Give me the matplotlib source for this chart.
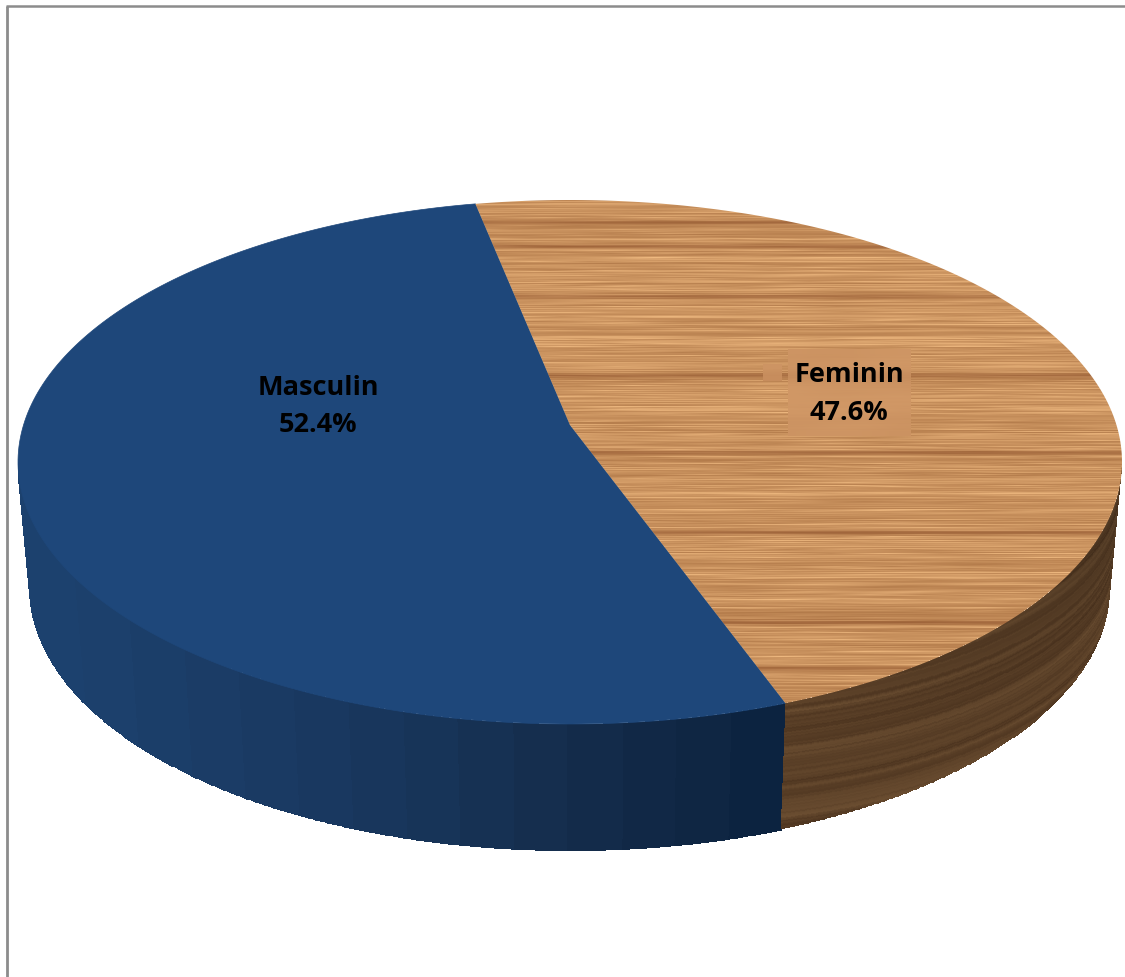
import matplotlib
matplotlib.use('Agg')
import matplotlib.pyplot as plt
from matplotlib.colors import to_rgb
from matplotlib.patches import Polygon
import numpy as np

labels = ['Masculin', 'Feminin']
shares = [52.4, 47.6]
share_text = ['52.4%', '47.6%']

WIDTH, HEIGHT = 1125, 977
START_ANGLE = 160.0  # clockwise from the top of the disc
TILT = -0.141

TOP_DISC = (570, 462, 552, 262)
BOTTOM_DISC = (570, 588, 540, 262)

BLUE_TOP = '#1e477a'
BLUE_SIDE = ['#1c416e', '#1c406c', '#1b3e69', '#1b3c66', '#1a3a63', '#193860', '#18365c',
             '#173458', '#163153', '#152e4e', '#132b4a', '#112846', '#0f2643', '#0c2340']
BAND_ROWS = [222, 246, 296, 375, 452, 532, 622, 668]
PATCH_LABEL = (788, 911, 349, 436)
PATCH_SMALL = (763, 782, 364, 381)


def project(theta, disc):
    cx, cy, rx, ry = disc
    t = np.radians(theta)
    u, v = np.sin(t), -np.cos(t)
    d = 1 + TILT * v
    return cx + rx * np.sqrt(1 - TILT**2) * u / d, cy + ry * (v + TILT) / d


def noise(x):
    # hash, only used for the wood grain look
    return (np.sin(x * 12.9898 + 4.1) * 43758.5453) % 1.0


def noise_lerp(x):
    i = np.floor(x)
    f = x - i
    return noise(i) * (1 - f) + noise(i + 1) * f


def wood_top():
    yy, xx = np.mgrid[0:HEIGHT, 0:WIDTH]
    fine = noise(yy.astype(float))
    coarse = noise_lerp(yy * 0.3)
    # streaks fade in and out along x
    along = noise_lerp(xx / 55.0 + yy * 7.3)
    val = 0.55 * fine * (0.3 + 1.0 * along) + 0.3 * coarse + 0.25 * along
    light = np.array([232, 178, 122.0])
    dark = np.array([176, 120, 72.0])
    img = dark + (light - dark) * val[..., None]
    wobble = 0.5 + 0.5 * noise_lerp(xx / 90.0 + np.floor(yy / 5.0) * 3.1)
    for row in BAND_ROWS:
        w = np.exp(-((yy - row) / 1.8) ** 2) * wobble * 0.6
        w = w + np.exp(-((yy - row) / 8.0) ** 2) * 0.1
        img = img * (1 - w[..., None]) + np.array([142, 82, 44.0]) * w[..., None]
    return np.clip(img, 0, 255).astype(np.uint8)


def wood_side(n_h, n_t):
    h, t = np.mgrid[0:n_h, 0:n_t]
    h = h / n_h
    t = t / n_t
    grain = noise_lerp(h * 30 + t * 14)
    fine = noise_lerp(h * 90 + t * 40)
    val = 0.7 * grain + 0.3 * fine
    light = np.array([112, 82, 52.0])
    dark = np.array([72, 48, 28.0])
    img = dark + (light - dark) * val[..., None]
    # upper right part of the rim is flatter and darker
    shade = np.clip(1.0 - 0.22 * (1 - t) * (1 - h), 0, 1)
    return np.clip(img * shade[..., None], 0, 255) / 255.0


def outline(theta_from, theta_to):
    th = np.linspace(theta_from, theta_to, 200)
    x, y = project(th, TOP_DISC)
    # centre of the disc sits at v = 0, not on the rim
    cx, cy, rx, ry = TOP_DISC
    return np.column_stack([np.r_[cx, x], np.r_[cy + ry * TILT, y]])


def side_mesh(theta_from, theta_to, n_t, n_h=1):
    th = np.linspace(theta_from, theta_to, n_t + 1)
    xt, yt = project(th, TOP_DISC)
    xb, yb = project(th, BOTTOM_DISC)
    frac = np.linspace(0, 1, n_h + 1)[:, None]
    return xt + (xb - xt) * frac, yt + (yb - yt) * frac


sweep = [s / sum(shares) * 360 for s in shares]
masc_from = START_ANGLE
masc_to = masc_from + sweep[0]
fem_from = masc_to - 360
fem_to = fem_from + sweep[1]

# rim is visible between the two silhouette points of the ellipse
rim_left = 360 - np.degrees(np.arccos(TILT))
rim_right = np.degrees(np.arccos(TILT))

fig = plt.figure(figsize=(WIDTH / 100, HEIGHT / 100), dpi=100)
ax = fig.add_axes([0, 0, 1, 1])
ax.set_xlim(0, WIDTH)
ax.set_ylim(HEIGHT, 0)
ax.axis('off')

# frame, only top and left are visible
ax.plot([7, 7], [HEIGHT, 6], color='#8c8c8c', lw=2.0, solid_capstyle='butt', zorder=1)
ax.plot([6, WIDTH], [6, 6], color='#8c8c8c', lw=1.8, solid_capstyle='butt', zorder=1)

# blue rim, banded by x like the original gradient
X, Y = side_mesh(START_ANGLE, rim_left, 400)
x_mid = (X[0, :-1] + X[0, 1:]) / 2
band_idx = ((x_mid - X[0].min()) / (X[0].max() - X[0].min()) * len(BLUE_SIDE)).astype(int)
band_idx = np.clip(band_idx, 0, len(BLUE_SIDE) - 1)
rim_rgb = np.array([to_rgb(BLUE_SIDE[i]) for i in band_idx])[None, :, :]
ax.pcolormesh(X, Y, rim_rgb, shading='flat', zorder=2, edgecolors='face', linewidth=0.6)

# wood rim
n_t, n_h = 260, 130
X, Y = side_mesh(rim_right, START_ANGLE, n_t, n_h)
ax.pcolormesh(X, Y, wood_side(n_h, n_t), shading='flat', zorder=2, edgecolors='none')

# top face
ax.add_patch(Polygon(outline(masc_from, masc_to), closed=True, fc=BLUE_TOP, ec=BLUE_TOP, lw=0.5, zorder=3))

wood = wood_top()
im = ax.imshow(wood, extent=(0, WIDTH, HEIGHT, 0), zorder=3, aspect='auto', interpolation='bilinear')
fem_poly = Polygon(outline(fem_from, fem_to), closed=True, fc='none', ec='none', transform=ax.transData)
ax.add_patch(fem_poly)
im.set_clip_path(fem_poly)

# the label sits on its own blurred crop of the texture
for x0, x1, y0, y1 in [PATCH_LABEL, PATCH_SMALL]:
    crop = wood[y0:y1, x0:x1].astype(float)
    k = np.ones(9) / 9
    crop = np.apply_along_axis(lambda c: np.convolve(c, k, mode='same'), 0, crop)
    crop = np.apply_along_axis(lambda c: np.convolve(c, k, mode='same'), 1, crop)
    crop[:4] = crop[4]
    crop[-4:] = crop[-5]
    crop[:, :4] = crop[:, [4]]
    crop[:, -4:] = crop[:, [-5]]
    crop = 0.4 * crop + 0.6 * np.array([208, 150, 102.0])
    ax.imshow(crop.astype(np.uint8), extent=(x0, x1, y1, y0), zorder=4, aspect='auto')
ax.set_xlim(0, WIDTH)
ax.set_ylim(HEIGHT, 0)

font = dict(family='Open Sans', fontweight='bold', fontsize=19.5, color='black',
            ha='center', va='center', zorder=5)
ax.text(318, 388, labels[0], **font)
ax.text(318, 425, share_text[0], **font)
ax.text(849, 375, labels[1], **font)
ax.text(849, 413, share_text[1], **font)

fig.savefig('out.png', dpi=100)
